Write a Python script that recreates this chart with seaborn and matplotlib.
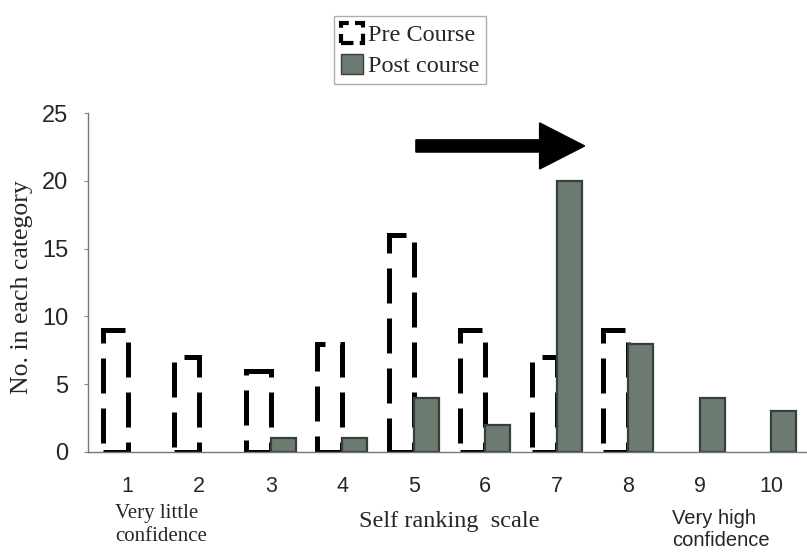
import matplotlib
matplotlib.use("Agg")
import matplotlib.pyplot as plt
import seaborn as sns
import pandas as pd
from matplotlib.patches import Patch

# Datos
scale_labels = ["1", "2", "3", "4", "5", "6", "7", "8", "9", "10"]
pre_course = [9, 7, 6, 8, 16, 9, 7, 9, 0, 0]
post_course = [0, 0, 1, 1, 4, 2, 20, 8, 4, 3]
groups = ["Pre Course", "Post course"]

df = pd.DataFrame({
    "scale": scale_labels * 2,
    "count": pre_course + post_course,
    "group": [groups[0]] * len(scale_labels) + [groups[1]] * len(scale_labels),
})

sns.set_style("white")
plt.rcParams["font.family"] = ["Liberation Sans", "DejaVu Sans"]
serif = ["Liberation Serif", "DejaVu Serif"]

post_fill = "#6c7a70"
post_edge = "#36403a"
W, H = 807, 554

fig = plt.figure(figsize=(W / 100, H / 100), dpi=100)
ax = fig.add_axes([88 / W, 102 / H, 1 - 88 / W, 339 / H])

sns.barplot(data=df, x="scale", y="count", hue="group", order=scale_labels,
            hue_order=groups, width=0.7, saturation=1,
            palette=["white", post_fill], legend=False, ax=ax)

# Barras "Pre": contorno discontinuo negro
for p, v in zip(ax.containers[0], pre_course):
    p.set_facecolor("none")
    p.set_edgecolor("black")
    p.set_linewidth(3.6)
    p.set_linestyle((0, (7, 3)))
    if v == 0:
        p.set_visible(False)

# Barras "Post": relleno gris verdoso
for p, v in zip(ax.containers[1], post_course):
    p.set_edgecolor(post_edge)
    p.set_linewidth(1.6)
    if v == 0:
        p.set_visible(False)

ax.set_xlim(-0.556, 9.445)
ax.set_ylim(0, 25)
ax.set_yticks([0, 5, 10, 15, 20, 25])
ax.set_xticks(range(len(scale_labels)))
ax.set_xticklabels(scale_labels)
ax.set_xticks([i + 0.5 for i in range(len(scale_labels))], minor=True)
ax.set_xlabel("")
ax.set_ylabel("")

ax.tick_params(axis="x", which="major", length=0, pad=17, labelsize=15.5)
ax.tick_params(axis="x", which="minor", length=4, direction="out", color="#888")
ax.tick_params(axis="y", length=3, direction="out", color="#888", pad=11, labelsize=17,
               left=True)

sns.despine(ax=ax)
for s in ["left", "bottom"]:
    ax.spines[s].set_color("#777")
    ax.spines[s].set_linewidth(1)

# Flecha
ax.arrow(4.03, 22.57, 2.36, 0, width=0.9, head_width=3.4, head_length=0.63,
         length_includes_head=True, color="black")

# Textos
fig.text(22 / W, 1 - 287 / H, "No. in each category", rotation=90,
         ha="center", va="center", family=serif, fontsize=18.5)
fig.text(449 / W, 1 - 522 / H, "Self ranking  scale", ha="center", va="center",
         family=serif, fontsize=17.5)
fig.text(115 / W, 1 - 525 / H, "Very little\nconfidence", ha="left", va="center",
         family=serif, fontsize=15, linespacing=1.25)
fig.text(672 / W, 1 - 530 / H, "Very high\nconfidence", ha="left", va="center",
         fontsize=14.5, linespacing=1.2)

# Leyenda
handles = [
    Patch(facecolor="none", edgecolor="black", linewidth=3, linestyle=(0, (3, 1.5))),
    Patch(facecolor=post_fill, edgecolor=post_edge),
]
fig.legend(handles=handles, labels=groups, loc="center",
           bbox_to_anchor=(410 / W, 1 - 50 / H), frameon=True, fancybox=False,
           edgecolor="#999", prop={"family": serif, "size": 17.5},
           handlelength=0.9, handleheight=0.9, handletextpad=0.2,
           borderpad=0.3, labelspacing=0.3)

fig.savefig("out.png", dpi=100)
